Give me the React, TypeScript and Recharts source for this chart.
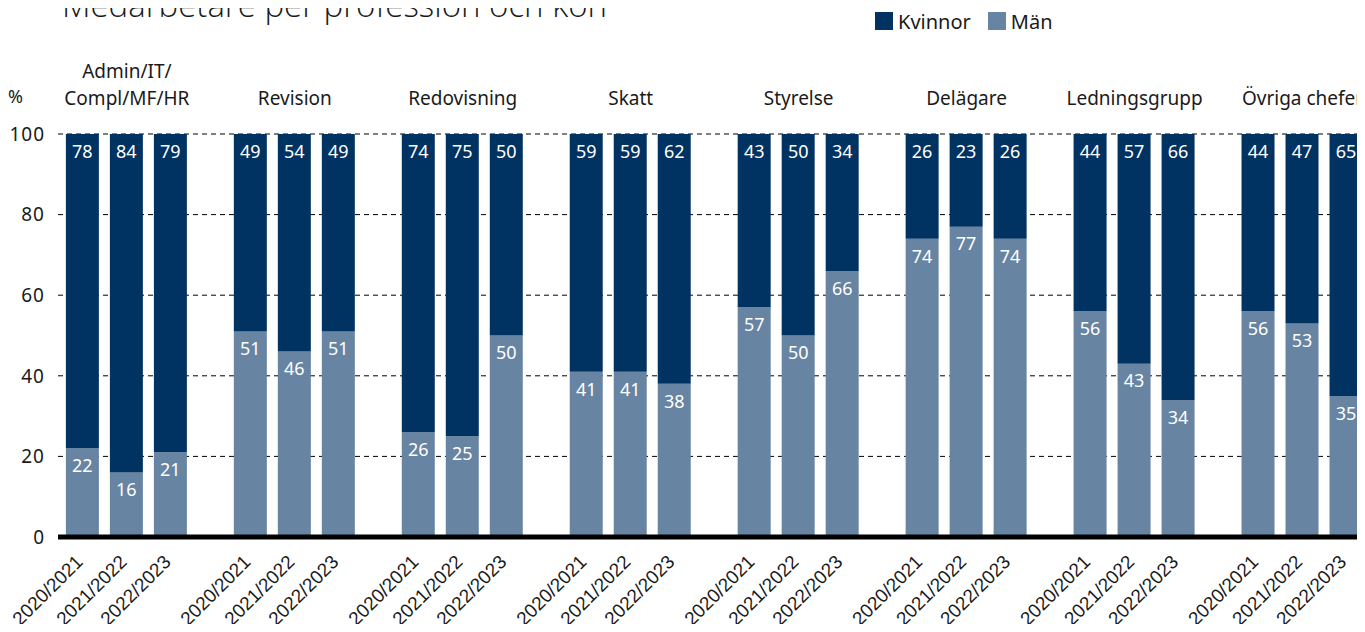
import React from "react";
import { BarChart, Bar, XAxis, YAxis, CartesianGrid, LabelList, Legend } from "recharts";

const title = "Medarbetare per profession och kön";
const groupLines: string[][] = [
  ["Admin/IT/", "Compl/MF/HR"],
  ["Revision"],
  ["Redovisning"],
  ["Skatt"],
  ["Styrelse"],
  ["Delägare"],
  ["Ledningsgrupp"],
  ["Övriga chefer"],
];
const years = ["2020/2021", "2021/2022", "2022/2023"];
const kvinnor = [
  [78, 84, 79],
  [49, 54, 49],
  [74, 75, 50],
  [59, 59, 62],
  [43, 50, 34],
  [26, 23, 26],
  [44, 57, 66],
  [44, 47, 65],
];
const man = [
  [22, 16, 21],
  [51, 46, 51],
  [26, 25, 50],
  [41, 41, 38],
  [57, 50, 66],
  [74, 77, 74],
  [56, 43, 34],
  [56, 53, 35],
];
const yTicks = [0, 20, 40, 60, 80, 100];
const seriesNames = { kvinnor: "Kvinnor", man: "Män" };

const DARK = "#003361";
const LIGHT = "#6784a2";
const TEXT = "#1a1a1a";
const FONT = '"Noto Sans", sans-serif';
const BAR_SIZE = 33;
const BAR_GAP = 11;

const rows = groupLines.map((_, g) => {
  const r: any = { g };
  years.forEach((_, j) => {
    r[`man${j}`] = man[g][j];
    r[`kvinnor${j}`] = kvinnor[g][j];
  });
  return r;
});
const groupTicks = groupLines.map((_, g) => g);

function YearTicks(props: any) {
  const { x, y } = props;
  return (
    <g>
      {years.map((yr, j) => (
        <text
          key={yr}
          transform={`translate(${x + (j - 1) * (BAR_SIZE + BAR_GAP) + 1},${y + 26}) rotate(-45)`}
          textAnchor="end"
          fontFamily='"Liberation Sans", Arial, sans-serif'
          fontSize={19}
          fill={TEXT}
        >
          {yr}
        </text>
      ))}
    </g>
  );
}

function GroupTick(props: any) {
  const { x, payload } = props;
  const lines = groupLines[payload.value];
  if (!lines) return <g />;
  const base = 105;
  return (
    <g>
      {lines.map((ln, i) => (
        <text
          key={i}
          x={x}
          y={base - 27 * (lines.length - 1 - i)}
          textAnchor="middle"
          fontFamily={FONT}
          fontSize={19}
          fill={TEXT}
        >
          {ln}
        </text>
      ))}
    </g>
  );
}

function LegendContent() {
  const sq = (c: string) => (
    <span style={{ display: "inline-block", width: 18, height: 18, background: c, marginRight: 5 }} />
  );
  return (
    <div style={{ display: "flex", alignItems: "center", fontFamily: FONT, fontSize: 20, color: TEXT, height: 30 }}>
      {sq(DARK)}
      <span style={{ marginRight: 17 }}>{seriesNames.kvinnor}</span>
      {sq(LIGHT)}
      <span>{seriesNames.man}</span>
    </div>
  );
}

const fmt = (v: any) => (v === null || v === undefined ? "" : v);
const labelProps = { position: "insideTop" as const, offset: 11, fill: "#fff", fontFamily: FONT, fontSize: 18, formatter: fmt };

export default function App() {
  return (
    <div style={{ position: "relative", width: 1365, height: 632, margin: -8, overflow: "hidden", background: "#fff" }}>
      <div
        style={{
          position: "absolute",
          left: 62,
          top: -12,
          fontFamily: '"Open Sans", "Noto Sans", sans-serif',
          fontWeight: 300,
          fontSize: 33,
          lineHeight: "33px",
          color: TEXT,
          whiteSpace: "nowrap",
        }}
      >
        {title}
      </div>
      <div
        style={{
          position: "absolute",
          left: 8,
          top: 84,
          fontFamily: FONT,
          fontSize: 18,
          lineHeight: "24px",
          color: TEXT,
        }}
      >
        %
      </div>
      <BarChart
        width={1368}
        height={632}
        data={rows}
        barGap={BAR_GAP}
        margin={{ top: 0, right: 0, bottom: 0, left: 0 }}
      >
        <CartesianGrid xAxisId="x" vertical={false} stroke="#000" strokeDasharray="5 4" />
        <XAxis
          xAxisId="top"
          orientation="top"
          type="number"
          dataKey="g"
          domain={[-0.41, 7.39]}
          allowDataOverflow
          ticks={groupTicks}
          height={134}
          axisLine={false}
          tickLine={false}
          interval={0}
          tick={<GroupTick />}
        />
        <XAxis
          xAxisId="x"
          type="number"
          dataKey="g"
          domain={[-0.41, 7.39]}
          allowDataOverflow
          ticks={groupTicks}
          height={95}
          axisLine={{ stroke: "#000", strokeWidth: 5 }}
          tickLine={false}
          tickSize={0}
          tickMargin={0}
          interval={0}
          tick={<YearTicks />}
        />
        <YAxis
          width={58}
          domain={[0, 100]}
          ticks={yTicks}
          axisLine={false}
          tickLine={false}
          tickSize={0}
          tickMargin={13}
          tick={{ fontFamily: FONT, fontSize: 19, fill: TEXT, letterSpacing: 1 }}
        />
        <Legend
          layout="horizontal"
          verticalAlign="middle"
          align="center"
          wrapperStyle={{ top: 6, left: 875, width: 260, height: 30 }}
          content={<LegendContent />}
        />
        {years.map((yr, j) => [
          <Bar
            key={`m${j}`}
            xAxisId="x"
            dataKey={`man${j}`}
            name={seriesNames.man}
            stackId={`s${j}`}
            fill={LIGHT}
            barSize={BAR_SIZE}
            isAnimationActive={false}
          >
            <LabelList dataKey={`man${j}`} {...labelProps} />
          </Bar>,
          <Bar
            key={`k${j}`}
            xAxisId="x"
            dataKey={`kvinnor${j}`}
            name={seriesNames.kvinnor}
            stackId={`s${j}`}
            fill={DARK}
            barSize={BAR_SIZE}
            isAnimationActive={false}
          >
            <LabelList dataKey={`kvinnor${j}`} {...labelProps} />
          </Bar>,
        ])}
      </BarChart>
    </div>
  );
}
